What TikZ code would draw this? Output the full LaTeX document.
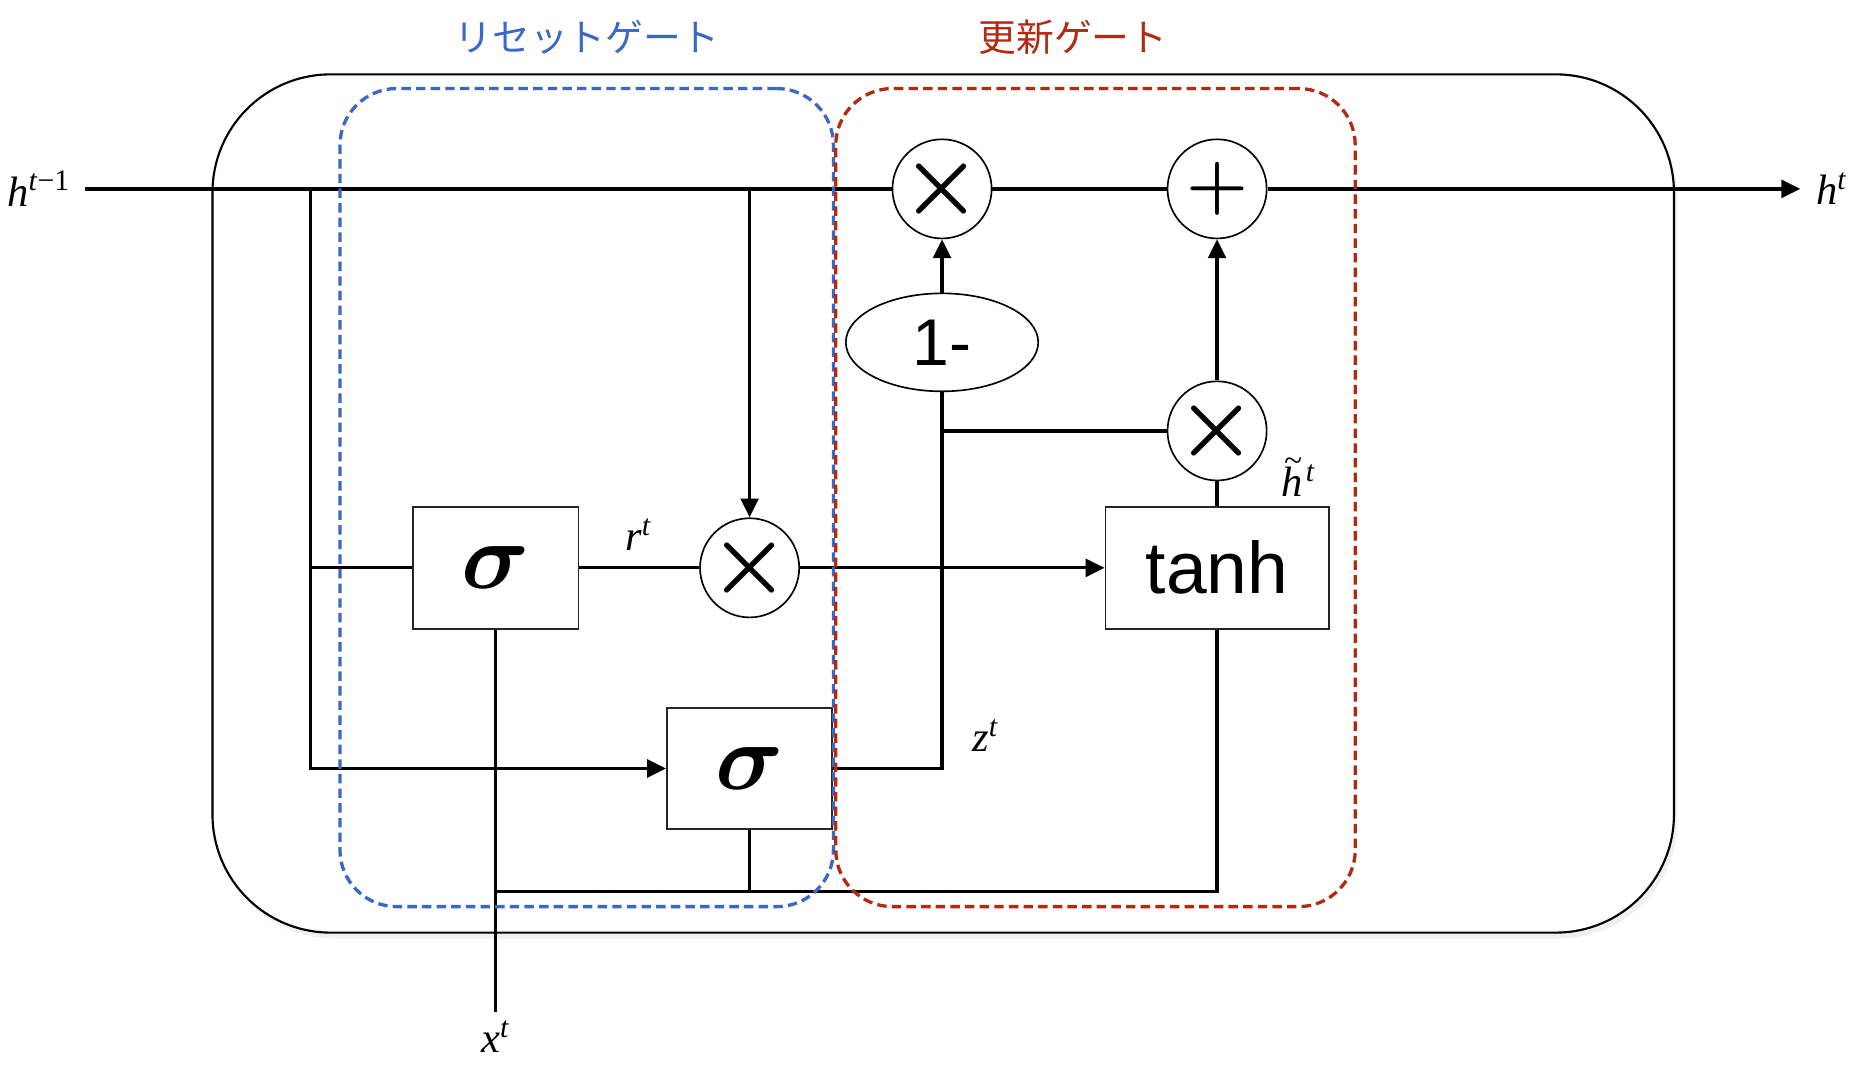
\RequirePackage{fix-cm}
\documentclass[tikz,border=0pt]{standalone}
\usepackage{amsmath}
\usepackage{fontspec}
\setmainfont{Liberation Serif}
\newfontfamily\figsans{Liberation Sans}
\newfontfamily\figjp{Noto Sans CJK JP}
\usetikzlibrary{arrows.meta,positioning,shapes.geometric,shadows}
\definecolor{resetblue}{HTML}{3A68C4}
\definecolor{updatered}{HTML}{B22A12}
\def\figline{1.4pt}
\def\figboxwidth{70pt}
\def\figboxheight{51.5pt}
\def\figopsize{42pt}
\newcommand{\figvar}[2]{\textit{#1}\textsuperscript{#2}}
\newcommand{\figtilde}{\rlap{\raisebox{0.6em}{\kern0.06em\fontsize{14}{14}\selectfont\textasciitilde}}}

\begin{document}
\begin{tikzpicture}[
  x=0.5pt,y=-0.5pt,
  >={Triangle[length=8pt,width=7.5pt]},
  wire/.style={line width=\figline},
  cellbox/.style={draw,line width=0.9pt,fill=white,rounded corners=50pt,minimum width=619pt,minimum height=363.5pt,
    drop shadow={shadow xshift=1.5pt,shadow yshift=-2.5pt,opacity=0.12}},
  gatebox/.style={draw=black!85,line width=0.8pt,minimum width=\figboxwidth,minimum height=\figboxheight,inner sep=0pt,fill=white},
  sig/.style={font=\fontsize{40}{40}\selectfont},
  op/.style={draw,circle,line width=0.7pt,minimum size=\figopsize,inner sep=-8pt,fill=white,font=\fontsize{38}{38}\selectfont},
  var/.style={font=\fontsize{18}{20}\selectfont,inner sep=1pt},
  region/.style={line width=1.4pt,dash pattern=on 4pt off 2.2pt,rounded corners=24pt},
  title/.style={font=\figjp\fontsize{16}{16}\selectfont,inner sep=0pt},
]
\useasboundingbox (0,0) rectangle (1568,905.5);

%%%%%%%%%%%%%%%
% Cell
%%%%%%%%%%%%%%%
\node (cell) [cellbox] at (799,426.5) {};

%%%%%%%%%%%%%%%
% Gates and Operations
%%%%%%%%%%%%%%%
\node (sig1) [gatebox,sig] at (420,481) {$\boldsymbol{\sigma}$};
\node (sig2) [gatebox,sig] at (635,651) {$\boldsymbol{\sigma}$};
\node (tanh) [gatebox,minimum width=94.5pt,font=\figsans\fontsize{31}{31}\selectfont] at (1031,481) {tanh};
\node (mulr) [op] at (635,481) {$\boldsymbol{\times}$};
\node (mulz) [op] at (798,160) {$\boldsymbol{\times}$};
\node (add) [op,font=\fontsize{30}{30}\selectfont] at (1031,160) {$\boldsymbol{+}$};
\node (mulh) [op] at (1031,365) {$\boldsymbol{\times}$};
\node (oneminus) [draw,ellipse,line width=0.7pt,minimum width=81.5pt,minimum height=41.5pt,fill=white,
  font=\figsans\fontsize{28}{28}\selectfont] at (798,290) {1-};

%%%%%%%%%%%%%%%
% Wires
%%%%%%%%%%%%%%%
\coordinate (hstart) at (72,160);
\coordinate (hend) at (1525,160);
\coordinate (split) at (263,160);
\coordinate (xstart) at (420,857);
\coordinate (bus) at (420,755);

\draw[wire] (hstart) -- (mulz.west);
\draw[wire] (mulz.east) -- (add.west);
\draw[wire,->] (add.east) -- (hend);
\draw[wire,->] (split) |- (sig2.west);
\draw[wire] (split |- sig1.west) -- (sig1.west);
\draw[wire,->] (mulr |- split) -- (mulr.north);
\draw[wire] (sig1.east) -- (mulr.west);
\draw[wire,->] (mulr.east) -- (tanh.west);
\draw[wire] (xstart) -- (sig1.south);
\draw[wire] (bus) -| (tanh.south);
\draw[wire] (sig2.south) -- (sig2.south |- bus);
\draw[wire] (sig2.east) -| (oneminus.south);
\draw[wire,->] (oneminus.north) -- (mulz.south);
\draw[wire] (oneminus.south |- mulh.west) -- (mulh.west);
\draw[wire] (tanh.north) -- (mulh.south);
\draw[wire,->] (mulh.north) -- (add.south);

%%%%%%%%%%%%%%%
% Labels
\node (hprev) [var,left=5pt of hstart] {\figvar{h}{\textit{t}−1}};
\node (hnext) [var,right=5.5pt of hend] {\figvar{h}{\textit{t}}};
\node (rlabel) [var] at (541,453) {\figvar{r}{\textit{t}}};
\node (zlabel) [var] at (835,623) {\figvar{z}{\textit{t}}};
\node (xlabel) [var,below=2.5pt of xstart] {\figvar{x}{\textit{t}}};
\node (hlabel) [var] at (1100,404) {\figvar{\figtilde h\kern0.08em}{\textit{t}}};

%%%%%%%%%%%%%%%
% Gate Regions
%%%%%%%%%%%%%%%
\node (reset) [region,draw=resetblue,minimum width=209pt,minimum height=346.5pt] at (497,421.5) {};
\node (update) [region,draw=updatered,minimum width=220pt,minimum height=346.5pt] at (928,421.5) {};
\node (resettitle) [title,text=resetblue,above=13.5pt of reset.north] {リセットゲート};
\node (updatetitle) [title,text=updatered,above=13.5pt of update.north,xshift=-9.5pt] {更新ゲート};

\end{tikzpicture}
\end{document}
